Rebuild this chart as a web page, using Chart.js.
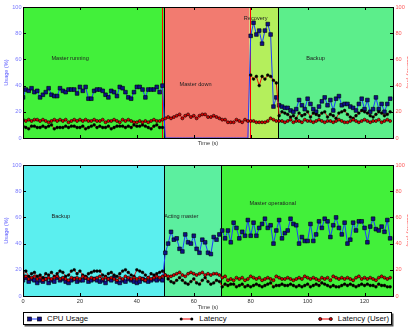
<!DOCTYPE html>
<html>
<head>
<meta charset="utf-8">
<script src="https://cdn.jsdelivr.net/npm/chart.js@4.4.1/dist/chart.umd.min.js"></script>
<style>
  html, body { margin: 0; padding: 0; background: #fff; overflow: hidden; }
  body { width: 408px; height: 328px; position: relative; font-family: "Liberation Sans", Arial, sans-serif; }
  canvas { position: absolute; left: 0; }
  #topChart { top: 0; }
  #bottomChart { top: 155px; }
  #legend {
    position: absolute; left: 23px; top: 312px; width: 369px; height: 13px;
    box-sizing: border-box; border: 1px solid #000; background: #fff;
    box-shadow: 1.5px 1.5px 0 #555;
    display: flex; justify-content: space-between; align-items: center;
    padding: 0 2px 0 3px; font-size: 7.8px; color: #111;
  }
  #legend span.item { display: flex; align-items: center; white-space: nowrap; }
  #legend svg { margin-right: 5px; }
</style>
</head>
<body>
<canvas id="topChart" width="420" height="150"></canvas>
<canvas id="bottomChart" width="420" height="156"></canvas>
<div id="legend">
  <span class="item"><svg width="15" height="8"><line x1="2" y1="4" x2="13" y2="4" stroke="#1e3cff" stroke-width="1"/><rect x="0.5" y="2" width="4" height="4" fill="#10108a" stroke="#000" stroke-width="0.6"/><rect x="10.5" y="2" width="4" height="4" fill="#10108a" stroke="#000" stroke-width="0.6"/></svg>CPU Usage</span>
  <span class="item"><svg width="15" height="8"><line x1="2" y1="4" x2="13" y2="4" stroke="#e00" stroke-width="1"/><circle cx="2.2" cy="4" r="1.5" fill="#000"/><circle cx="12.8" cy="4" r="1.5" fill="#000"/></svg>Latency</span>
  <span class="item"><svg width="15" height="8"><line x1="2" y1="4" x2="13" y2="4" stroke="#e00" stroke-width="1"/><circle cx="2.2" cy="4" r="1.6" fill="#c00" stroke="#000" stroke-width="0.7"/><circle cx="12.8" cy="4" r="1.6" fill="#c00" stroke="#000" stroke-width="0.7"/></svg>Latency (User)</span>
</div>
<script>
// sample times, one per second
var seconds = [];
for (var i = 0; i < 130; i++) seconds.push(i);

// top run: master fails, recovers, continues as backup
var topCpu = [
  31,37,36,38,35,36,31,33,35,38,33,32,32,38,36,35,37,37,37,34,39,36,39,30,30,36,37,37,36,33,31,36,35,32,39,38,35,31,30,35,39,39,37,31,37,37,37,39,35,40,
  0,0,0,0,0,0,0,0,0,0,0,0,0,0,0,0,0,0,0,0,0,0,0,0,0,0,0,0,0,0,
  78,88,79,82,72,82,87,79,24,31,
  25,24,23,23,21,20,22,29,25,22,30,26,22,20,24,28,31,25,29,21,30,32,25,26,26,24,23,21,26,30,22,29,20,22,31,22,26,20,26,30
];
var topLatency = [
  9,8,7,9,9,8,8,9,8,9,10,7,8,8,8,9,8,9,9,8,8,9,7,8,9,10,8,9,8,8,9,7,8,9,9,9,8,9,8,10,9,9,10,9,8,7,9,10,8,8,
  null,null,null,null,null,null,null,null,null,null,null,null,null,null,null,null,null,null,null,null,null,null,null,null,null,null,null,null,null,null,
  48,45,47,40,47,45,48,47,44,42,
  17,20,19,18,16,17,15,19,17,18,20,16,19,18,17,19,20,16,18,17,15,19,20,21,18,16,15,17,19,21,20,19,17,16,18,20,19,17,18,20
];
var topLatencyUser = [
  14,13,14,13,14,14,13,14,13,12,13,14,13,14,13,14,12,13,14,13,14,13,14,13,13,14,13,13,14,12,13,13,14,13,12,14,13,14,13,12,12,13,12,13,12,13,14,13,13,14,
  15,16,15,16,17,18,15,17,18,16,17,15,17,18,18,16,16,17,16,15,14,14,12,12,12,14,13,12,14,13,
  13,13,12,12,12,12,13,15,14,13,
  13,13,12,13,14,12,13,13,12,14,13,13,12,13,14,13,12,13,13,12,13,14,13,12,12,13,14,13,12,13,14,13,12,13,13,14,12,13,14,13
];

// bottom run: backup takes over as master
var bottomCpu = [
  12,14,11,13,12,10,12,11,13,10,12,11,14,12,13,11,10,12,13,11,12,12,14,11,12,13,12,11,12,10,13,12,14,11,10,12,11,13,12,11,10,11,13,12,11,12,13,12,13,12,
  33,40,49,43,44,36,34,47,41,40,46,36,33,43,41,33,32,45,43,47,
  50,44,50,41,56,52,44,49,46,58,46,56,46,52,55,59,52,54,40,50,58,44,48,50,59,55,54,40,45,42,42,55,42,47,57,52,59,57,45,54,60,52,47,56,40,43,56,50,57,57,52,41,53,59,51,50,53,49,58,44
];
var bottomLatency = [
  16,19,15,17,18,15,16,14,17,16,18,15,17,19,18,15,16,19,20,17,19,16,15,17,18,19,19,19,16,15,17,18,16,15,17,19,20,18,16,15,20,19,18,16,14,17,16,17,18,19,
  16,13,11,10,12,14,12,10,9,11,13,10,9,12,14,11,9,10,12,11,
  7,9,8,9,9,7,8,9,7,8,7,8,9,8,7,8,9,10,7,8,8,9,8,8,9,8,7,8,7,8,9,7,8,9,8,10,9,8,7,8,7,7,8,9,8,9,8,7,8,9,8,9,8,8,7,9,8,8,7,7
];
var bottomLatencyUser = [
  14,15,13,14,15,13,14,12,13,14,13,14,15,13,14,13,12,14,13,14,13,15,14,13,14,13,14,15,13,14,13,14,13,12,14,13,15,14,13,14,13,14,13,12,14,13,14,15,14,15,
  16,15,15,16,17,18,16,15,17,18,17,16,17,18,16,17,16,17,17,16,
  14,15,12,13,12,14,13,14,12,13,15,14,13,14,12,13,14,13,12,15,14,13,13,14,13,12,13,14,13,15,14,13,14,13,12,14,13,14,12,15,14,13,14,13,14,13,12,14,15,13,14,13,14,13,12,14,15,14,13,14
];

// phases (time in s) and where their names sit (time, value)
var topPhaseNames = ['Master running', 'Master down', 'Recovery', 'Backup'];
var topPhaseStart = [0, 49.7, 79.6, 89.7];
var topPhaseEnd = [49.7, 79.6, 89.7, 130];
var topLabelAt = [[10, 61], [55, 41], [77.6, 91], [99.5, 61]];
var topEventTimes = [48.7, 79.6];

var bottomPhaseNames = ['Backup', 'Acting master', 'Master operational'];
var bottomPhaseStart = [0, 49.7, 69.6];
var bottomPhaseEnd = [49.7, 69.6, 130];
var bottomLabelAt = [[10, 61], [49.6, 61], [79.6, 71]];

var axisTicks = [0, 20, 40, 60, 80, 100, 120];
var usageTicks = [0, 20, 40, 60, 80, 100];

var topPhaseColors = ['#42f03a', '#f27b70', '#b4ef5c', '#5cee8b'];
var bottomPhaseColors = ['#5befef', '#5cef9f', '#42f03a'];

Chart.defaults.font.family = '"Liberation Sans", Arial, sans-serif';

function points(values) {
  return seconds.map(function (t, i) { return { x: t, y: values[i] }; });
}

function phasePlugin(names, starts, ends, colors, labelAt, events) {
  return {
    id: 'phases',
    beforeDatasetsDraw: function (chart) {
      var ctx = chart.ctx, a = chart.chartArea, x = chart.scales.x, y = chart.scales.y;
      ctx.save();
      for (var i = 0; i < names.length; i++) {
        var x0 = x.getPixelForValue(starts[i]), x1 = x.getPixelForValue(ends[i]);
        ctx.fillStyle = colors[i];
        ctx.fillRect(x0, a.top, x1 - x0, a.bottom - a.top);
      }
      ctx.fillStyle = '#222';
      ctx.font = '5.6px "Liberation Sans", Arial, sans-serif';
      ctx.textBaseline = 'middle';
      for (i = 0; i < names.length; i++) {
        ctx.fillText(names[i], x.getPixelForValue(labelAt[i][0]), y.getPixelForValue(labelAt[i][1]));
      }
      ctx.strokeStyle = '#000';
      ctx.lineWidth = 1;
      for (i = 1; i < names.length; i++) {
        var px = Math.round(x.getPixelForValue(starts[i])) + 0.5;
        ctx.beginPath(); ctx.moveTo(px, a.top); ctx.lineTo(px, a.bottom); ctx.stroke();
      }
      ctx.strokeStyle = '#f00';
      for (i = 0; i < events.length; i++) {
        var ex = Math.round(x.getPixelForValue(events[i])) + 0.5;
        ctx.beginPath(); ctx.moveTo(ex, a.top); ctx.lineTo(ex, a.bottom); ctx.stroke();
      }
      ctx.restore();
    },
    afterDatasetsDraw: function (chart) {
      var ctx = chart.ctx, a = chart.chartArea, x = chart.scales.x, y = chart.scales.y;
      ctx.save();
      ctx.strokeStyle = '#000';
      ctx.lineWidth = 1;
      ctx.strokeRect(Math.round(a.left) + 0.5, Math.round(a.top) + 0.5, Math.round(a.right - a.left), Math.round(a.bottom - a.top));
      ctx.beginPath();
      axisTicks.forEach(function (v) {
        var px = Math.round(x.getPixelForValue(v)) + 0.5;
        ctx.moveTo(px, a.bottom); ctx.lineTo(px, a.bottom - 3);
        ctx.moveTo(px, a.top); ctx.lineTo(px, a.top + 3);
      });
      usageTicks.forEach(function (v) {
        var py = Math.round(y.getPixelForValue(v)) + 0.5;
        ctx.moveTo(a.left, py); ctx.lineTo(a.left + 3, py);
        ctx.moveTo(a.right, py); ctx.lineTo(a.right - 3, py);
      });
      ctx.stroke();
      ctx.restore();
    }
  };
}

function makeChart(id, cpu, lat, latUser, plugin, opts) {
  return new Chart(document.getElementById(id), {
    type: 'line',
    data: {
      datasets: [
        {
          label: 'CPU Usage', data: points(cpu), yAxisID: 'y', order: 3,
          borderColor: '#1e3cff', borderWidth: 1, pointStyle: 'rect',
          pointRadius: function (c) { return c.raw && c.raw.y === 0 ? 0 : 2.6; },
          pointBackgroundColor: '#10108a', pointBorderColor: '#000', pointBorderWidth: 0.6
        },
        {
          label: 'Latency', data: points(lat), yAxisID: 'y2', order: 2,
          borderColor: '#e00', borderWidth: 0.9, pointStyle: 'circle', pointRadius: 1.4,
          pointBackgroundColor: '#000', pointBorderColor: '#000', pointBorderWidth: 0.5, spanGaps: false
        },
        {
          label: 'Latency (User)', data: points(latUser), yAxisID: 'y2', order: 1,
          borderColor: '#e00', borderWidth: 0.9, pointStyle: 'circle', pointRadius: 1.5,
          pointBackgroundColor: '#d00', pointBorderColor: '#000', pointBorderWidth: 0.6
        }
      ]
    },
    options: {
      responsive: false,
      animation: false,
      events: [],
      layout: { padding: { top: opts.padTop, left: 0, right: 0, bottom: 0 } },
      plugins: { legend: { display: false }, tooltip: { enabled: false } },
      scales: {
        x: {
          type: 'linear', min: 0, max: 130,
          grid: { display: false, drawTicks: false }, border: { display: false },
          afterBuildTicks: function (s) { s.ticks = axisTicks.map(function (v) { return { value: v }; }); },
          afterFit: function (s) { s.height = opts.xHeight; },
          ticks: { display: opts.xLabels, padding: 2, font: { size: 5.6 }, color: '#333', maxRotation: 0 },
          title: { display: true, text: 'Time (s)', font: { size: 5.6 }, color: '#333', padding: { top: 0, bottom: opts.titlePad } }
        },
        y: {
          position: 'left', min: 0, max: 100,
          grid: { display: false, drawTicks: false }, border: { display: false },
          afterBuildTicks: function (s) { s.ticks = usageTicks.map(function (v) { return { value: v }; }); },
          afterFit: function (s) { s.width = 23; },
          ticks: { padding: 1.5, font: { size: 5.6 }, color: '#7878ff' },
          title: { display: true, text: 'Usage (%)', font: { size: 5.6 }, color: '#5a5aff', padding: { top: 3, bottom: 0 } }
        },
        y2: {
          position: 'right', min: 0, max: 100,
          grid: { display: false, drawTicks: false }, border: { display: false },
          afterBuildTicks: function (s) { s.ticks = usageTicks.map(function (v) { return { value: v }; }); },
          afterFit: function (s) { s.width = 27; },
          ticks: { padding: 2.5, font: { size: 5.6 }, color: '#ff5a5a' },
          title: { display: true, text: 'Latency (ms)', font: { size: 5.6 }, color: '#ff4040', padding: { top: 8, bottom: 0 } }
        }
      }
    },
    plugins: [plugin]
  });
}

var topChart = makeChart('topChart', topCpu, topLatency, topLatencyUser,
  phasePlugin(topPhaseNames, topPhaseStart, topPhaseEnd, topPhaseColors, topLabelAt, topEventTimes),
  { padTop: 7, xHeight: 12, xLabels: false, titlePad: 3 });

var bottomChart = makeChart('bottomChart', bottomCpu, bottomLatency, bottomLatencyUser,
  phasePlugin(bottomPhaseNames, bottomPhaseStart, bottomPhaseEnd, bottomPhaseColors, bottomLabelAt, []),
  { padTop: 10, xHeight: 15, xLabels: true, titlePad: 0 });
</script>
</body>
</html>
